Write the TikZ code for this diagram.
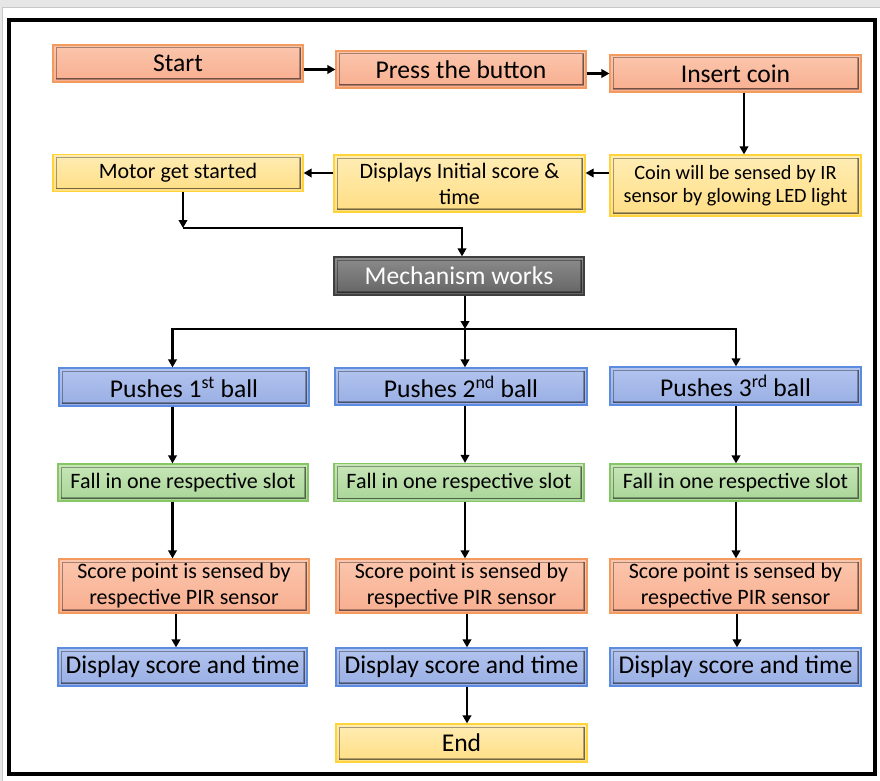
\documentclass[tikz,border=0pt]{standalone}
\usepackage{fontspec}
\setmainfont{Carlito}
\usetikzlibrary{arrows.meta}

\definecolor{orangeline}{HTML}{F39A5E}
\definecolor{orangetop}{HTML}{FBC6AD}
\definecolor{orangebot}{HTML}{F8AE8F}
\definecolor{yellowline}{HTML}{FFD43B}
\definecolor{yellowtop}{HTML}{FFEDB5}
\definecolor{yellowbot}{HTML}{FFDE84}
\definecolor{blueline}{HTML}{5C8CE0}
\definecolor{bluetop}{HTML}{B3C4EE}
\definecolor{bluebot}{HTML}{98AEE4}
\definecolor{greenline}{HTML}{86C664}
\definecolor{greentop}{HTML}{C8E6B8}
\definecolor{greenbot}{HTML}{A8D597}
\definecolor{grayline}{HTML}{3F3F3F}
\definecolor{graytop}{HTML}{8C8C8C}
\definecolor{graybot}{HTML}{646464}
\definecolor{screengray}{HTML}{E6E6E6}

\begin{document}
\begin{tikzpicture}[x=1pt,y=-1pt,
  box/.style={rectangle,inner sep=0pt,align=center,line width=1.2pt,
    minimum width=250pt,minimum height=37pt,
    path picture={
      \draw[black,opacity=.35,line width=1pt]
        ([shift={(3pt,-3pt)}]path picture bounding box.north west) rectangle
        ([shift={(-3pt,3pt)}]path picture bounding box.south east);
      \draw[black,opacity=.3,line width=1.5pt]
        ([shift={(3pt,3pt)}]path picture bounding box.south west) --
        ([shift={(-3pt,3pt)}]path picture bounding box.south east) --
        ([shift={(-3pt,-3pt)}]path picture bounding box.north east);}},
  orangebox/.style={box,draw=orangeline,top color=orangetop,bottom color=orangebot},
  yellowbox/.style={box,draw=yellowline,top color=yellowtop,bottom color=yellowbot},
  bluebox/.style={box,draw=blueline,top color=bluetop,bottom color=bluebot},
  greenbox/.style={box,draw=greenline,top color=greentop,bottom color=greenbot},
  graybox/.style={box,draw=grayline,top color=graytop,bottom color=graybot,text=white},
  big/.style={font=\fontsize{25.6}{30}\selectfont},
  mid/.style={font=\fontsize{22}{26}\selectfont},
  small/.style={font=\fontsize{20.3}{23}\selectfont},
  arr/.style={-{Triangle[length=8pt,width=8.5pt]},line width=2.5pt}
]
\useasboundingbox (0,0) rectangle (880,781);
% screen capture edges and frame
\fill[screengray] (0,0) rectangle (880,7);
\fill[screengray] (0,7) rectangle (1.5,781);
\draw[black!22,line width=1pt] (2,781) -- (2,7.5) -- (880,7.5);
\draw[line width=4pt] (9.3,20) rectangle (875.3,774);

% top rows
\node[orangebox,big] (start) at (178,63.5) {Start};
\node[orangebox,big] (press) at (461,69.5) {Press the button};
\node[orangebox,big,minimum width=251pt] (insert) at (735.5,73.5) {Insert coin};
\node[yellowbox,mid] (motor) at (178,173) {Motor get started};
\node[yellowbox,mid,minimum width=251pt,minimum height=57pt] (initial) at (459.5,183.5) {Displays Initial score \&\\time};
\node[yellowbox,small,minimum width=251pt,minimum height=61pt] (coin) at (735.5,185.5) {Coin will be sensed by IR\\sensor by glowing LED light};
\node[graybox,big,minimum height=38pt] (mech) at (459,276) {Mechanism works};

% three columns
\node[bluebox,big,minimum height=38pt] (push1) at (184,387) {Pushes 1\textsuperscript{st} ball};
\node[bluebox,big,minimum width=252pt] (push2) at (461,386.5) {Pushes 2\textsuperscript{nd} ball};
\node[bluebox,big,minimum width=251pt,minimum height=38pt] (push3) at (735.5,386) {Pushes 3\textsuperscript{rd} ball};
\node[greenbox,mid] (fall1) at (183,482.5) {Fall in one respective slot};
\node[greenbox,mid,minimum height=38pt] (fall2) at (459,482.5) {Fall in one respective slot};
\node[greenbox,mid,minimum width=251pt] (fall3) at (735.5,482.5) {Fall in one respective slot};
\node[orangebox,mid,minimum height=54pt] (score1) at (184,586) {Score point is sensed by\\respective PIR sensor};
\node[orangebox,mid,minimum width=251pt,minimum height=54pt] (score2) at (461.5,586) {Score point is sensed by\\respective PIR sensor};
\node[orangebox,mid,minimum width=251pt,minimum height=54pt] (score3) at (735.5,586) {Score point is sensed by\\respective PIR sensor};
\node[bluebox,big,minimum width=249pt,minimum height=38pt] (disp1) at (182.5,667) {Display score and time};
\node[bluebox,big,minimum width=251pt,minimum height=38pt] (disp2) at (461.5,667) {Display score and time};
\node[bluebox,big,minimum width=251pt,minimum height=38pt] (disp3) at (735.5,667) {Display score and time};
\node[yellowbox,big,minimum width=251pt,minimum height=38pt] (end) at (461.5,743) {End};

% bends and lanes
\coordinate (turn) at (183,228);
\coordinate (split) at (465,329);
\coordinate (lane1) at (172.5,0);
\coordinate (lane2) at (465,0);
\coordinate (lane3) at (736,0);
\coordinate (drop1) at (176,0);
\coordinate (drop2) at (467,0);
\coordinate (drop3) at (737,0);

\draw[arr] (start.east |- press) -- (press.west);
\draw[arr] (press.east |- insert) -- (insert.west);
\draw[arr] ([xshift=8.5pt]insert.south) -- ([xshift=8.5pt]coin.north);
\draw[arr] (coin.west |- motor) -- (initial.east |- motor);
\draw[arr] (initial.west |- motor) -- (motor.east);
\draw[arr] (motor.south -| turn) -- (turn);
\draw[arr] (turn) -| ([xshift=3pt]mech.north);
\draw[arr] (mech.south -| split) -- (split);
\draw[arr] (split) -| (push1.north -| lane1);
\draw[arr] (split) -- (push2.north -| lane2);
\draw[arr] (split) -| (push3.north -| lane3);

\draw[arr] (push1.south -| lane1) -- (fall1.north -| lane1);
\draw[arr] (push2.south -| lane2) -- (fall2.north -| lane2);
\draw[arr] (push3.south -| lane3) -- (fall3.north -| lane3);
\draw[arr] (fall1.south -| lane1) -- (score1.north -| lane1);
\draw[arr] (fall2.south -| lane2) -- (score2.north -| lane2);
\draw[arr] (fall3.south -| lane3) -- (score3.north -| lane3);
\draw[arr] (score1.south -| drop1) -- (disp1.north -| drop1);
\draw[arr] (score2.south -| drop2) -- (disp2.north -| drop2);
\draw[arr] (score3.south -| drop3) -- (disp3.north -| drop3);
\draw[arr] (disp2.south -| drop2) -- (end.north -| drop2);
\end{tikzpicture}
\end{document}
